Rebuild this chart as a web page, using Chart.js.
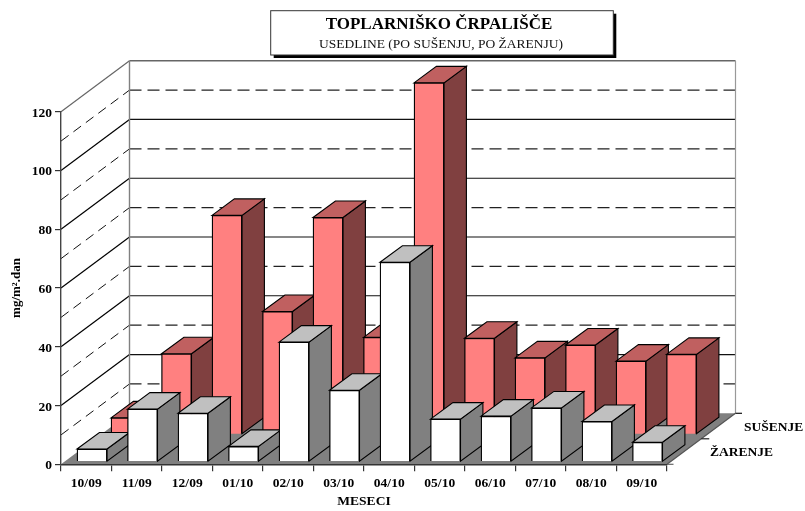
<!DOCTYPE html>
<html>
<head>
<meta charset="utf-8">
<style>html,body{margin:0;padding:0;background:#fff}canvas{display:block}</style>
<script src="https://cdn.jsdelivr.net/npm/chart.js@4"></script>
</head>
<body>
<canvas id="c" width="805" height="511"></canvas>
<script>
const months = ['10/09','11/09','12/09','01/10','02/10','03/10','04/10','05/10','06/10','07/10','08/10','09/10'];
const zarenje = [4.3,17.9,16.5,5.2,40.7,24.3,67.9,14.5,15.5,18.3,13.7,6.6];
const susenje = [5.6,27.4,74.5,41.8,73.8,33,119.6,32.7,26,30.4,24.9,27.2];
const gridMinor = [10,30,50,70,90,110];
const gridMajor = [20,40,60,80,100];
const titleText = 'TOPLARNIŠKO ČRPALIŠČE';
const subtitleText = 'USEDLINE (PO SUŠENJU, PO ŽARENJU)';
const serif = '"Liberation Serif","Times New Roman",serif';

const DX = 68.5, DY = 51;           // depth of the box
const rows = [
  {sx:5.75, sy:2.6, dx:22.4, dy:16.5, top:'#C0C0C0', side:'#808080'},
  {sx:39.75, sy:30, dx:22.4, dy:16.5, top:'#C06060', side:'#804040'}
];

function poly(ctx, pts, fill, stroke, lw){
  ctx.beginPath();
  pts.forEach((p,i)=> i?ctx.lineTo(p[0],p[1]):ctx.moveTo(p[0],p[1]));
  ctx.closePath();
  if(fill){ctx.fillStyle=fill;ctx.fill();}
  if(stroke){ctx.strokeStyle=stroke;ctx.lineWidth=lw;ctx.stroke();}
}
function line(ctx,x1,y1,x2,y2,color,lw,dash){
  ctx.beginPath();ctx.setLineDash(dash||[]);ctx.strokeStyle=color;ctx.lineWidth=lw;
  ctx.moveTo(x1,y1);ctx.lineTo(x2,y2);ctx.stroke();ctx.setLineDash([]);
}

const box3d = {
  id:'box3d',
  beforeDraw(chart){
    const ctx=chart.ctx, y=chart.scales.y, a=chart.chartArea;
    const L=a.left,R=a.right,y0=y.getPixelForValue(0),yT=y.getPixelForValue(120);
    ctx.save();
    ctx.fillStyle='#fff';ctx.fillRect(0,0,chart.width,chart.height);
    // floor
    poly(ctx,[[L,y0],[R,y0],[R+DX,y0-DY],[L+DX,y0-DY]],'#808080');
    // grid on walls
    gridMinor.forEach(v=>{
      const p=y.getPixelForValue(v);
      line(ctx,L,p,L+DX,p-DY,'#111',1,[9.5,6]);
      line(ctx,L+DX,p-DY,R+DX,p-DY,'#222',1.2,[12,6]);
    });
    gridMajor.forEach(v=>{
      const p=y.getPixelForValue(v);
      line(ctx,L,p,L+DX,p-DY,'#000',1.2);
      line(ctx,L+DX,p-DY,R+DX,p-DY,'#111',1.2);
    });
    // wall outline
    line(ctx,L,yT,L+DX,yT-DY,'#666',1.2);
    line(ctx,L+DX,yT-DY,R+DX,yT-DY,'#666',1.4);
    line(ctx,L+DX,yT-DY,L+DX,y0-DY,'#808080',1.4);
    line(ctx,R+DX,yT-DY,R+DX,y0-DY,'#999',1.2);
    // depth axis with its ticks
    line(ctx,R,y0,R+DX,y0-DY,'#555',1.2);
    line(ctx,R,y0,R+6.5,y0,'#666',1.2);
    line(ctx,R+DX/2,y0-DY/2,R+DX/2+8,y0-DY/2,'#222',1.2);
    line(ctx,R+DX,y0-DY,R+DX+6.5,y0-DY,'#111',1.2);
    ctx.restore();
  },
  beforeDatasetDraw(chart,args){
    const ctx=chart.ctx, r=rows[args.index];
    ctx.save();
    ctx.translate(r.sx,-r.sy);
    ctx.lineJoin='miter';
    args.meta.data.forEach(b=>{
      const l=b.x-b.width/2, rt=b.x+b.width/2, t=b.y, bs=b.base;
      poly(ctx,[[rt,t],[rt+r.dx,t-r.dy],[rt+r.dx,bs-r.dy],[rt,bs]],r.side,'#000',1.1);
      poly(ctx,[[l,t],[l+r.dx,t-r.dy],[rt+r.dx,t-r.dy],[rt,t]],r.top,'#000',1.1);
    });
  },
  afterDatasetDraw(chart){ chart.ctx.restore(); },
  afterDraw(chart){
    const ctx=chart.ctx, y=chart.scales.y, a=chart.chartArea, y0=y.getPixelForValue(0);
    ctx.save();
    // title box
    const bx=270.7,by=10.7,bw=342.6,bh=44.3;
    ctx.fillStyle='#000';ctx.fillRect(bx+3,by+3,bw,bh);
    ctx.fillStyle='#fff';ctx.fillRect(bx,by,bw,bh);
    ctx.strokeStyle='#333';ctx.lineWidth=1;ctx.strokeRect(bx,by,bw,bh);
    ctx.textAlign='center';ctx.textBaseline='middle';ctx.fillStyle='#000';
    ctx.font='bold 17px '+serif;
    ctx.fillText(titleText,bx+bw/2-3,24.5);
    ctx.font='13.5px '+serif;
    ctx.fillStyle='#111';
    ctx.fillText(subtitleText,bx+bw/2-1,44.5);
    // series names on the depth axis
    ctx.font='bold 13.5px '+serif;ctx.textAlign='left';ctx.fillStyle='#000';
    ctx.fillText(chart.data.datasets[1].label,a.right+77,y0-36.5);
    ctx.fillText(chart.data.datasets[0].label,a.right+43,y0-11.3);
    ctx.restore();
  }
};

new Chart(document.getElementById('c'),{
  type:'bar',
  data:{labels:months,datasets:[
    {label:'ŽARENJE',data:zarenje,backgroundColor:'#FFFFFF',borderColor:'#000',borderWidth:1.3,barThickness:30,grouped:false,clip:false},
    {label:'SUŠENJE',data:susenje,backgroundColor:'#FF8080',borderColor:'#000',borderWidth:1.3,barThickness:30,grouped:false,clip:false}
  ]},
  plugins:[box3d],
  options:{
    responsive:false,animation:false,
    layout:{padding:{left:0,right:138,top:111.7,bottom:0}},
    plugins:{legend:{display:false},title:{display:false},tooltip:{enabled:false}},
    scales:{
      x:{
        type:'category',
        afterFit(s){s.height=46.7;},
        grid:{drawOnChartArea:false,drawTicks:true,tickLength:7,color:'#333',offset:true,lineWidth:1.2},
        border:{color:'#333',width:1.4},
        ticks:{color:'#000',font:{family:serif,weight:'bold',size:13.5},padding:4,maxRotation:0,autoSkip:false},
        title:{display:true,text:'MESECI',color:'#000',font:{family:serif,weight:'bold',size:13.5},padding:{top:0,bottom:1.2}}
      },
      y:{
        type:'linear',min:0,max:120,
        afterFit(s){s.width=61;},
        grid:{drawOnChartArea:false,drawTicks:true,tickLength:6,color:'#333',lineWidth:1.2},
        border:{color:'#444',width:1.4},
        ticks:{stepSize:20,color:'#000',font:{family:serif,weight:'bold',size:13.5},padding:3,labelOffset:1.5},
        title:{display:true,text:'mg/m².dan',color:'#000',font:{family:serif,weight:'bold',size:13},padding:{top:8.5,bottom:0}}
      }
    }
  }
});
</script>
</body>
</html>
